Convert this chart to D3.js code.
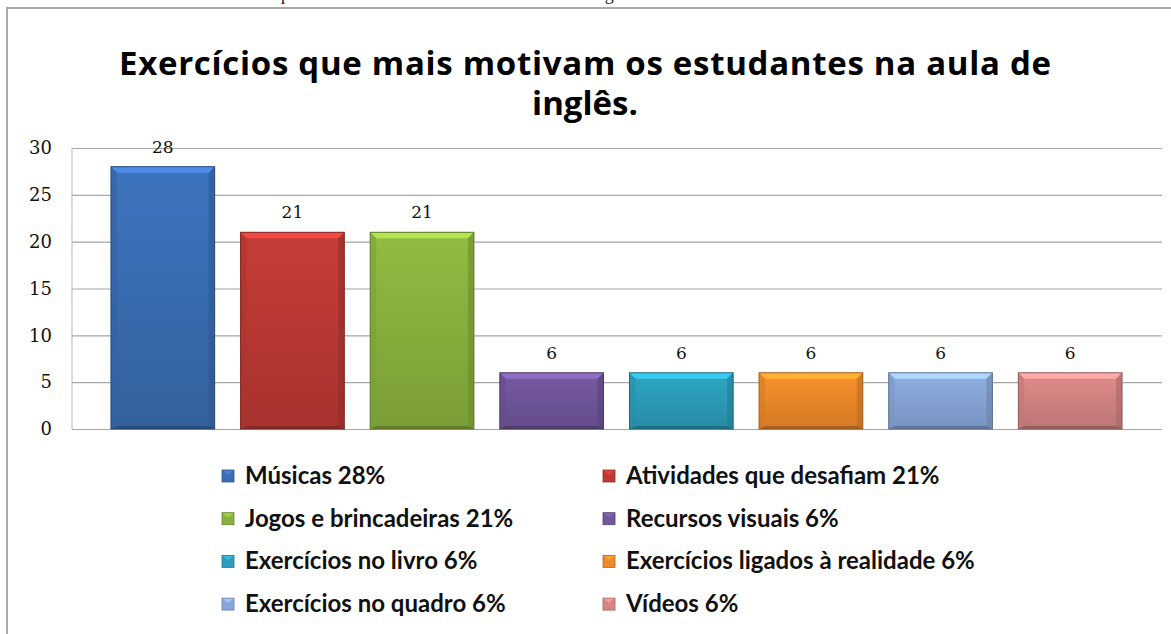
<!DOCTYPE html>
<html>
<head>
<meta charset="utf-8">
<script src="https://cdn.jsdelivr.net/npm/d3@7"></script>
<style>
  body { margin: 0; background: #fff; overflow: hidden; }
  svg { display: block; }
</style>
</head>
<body>
<svg id="chart"></svg>
<script>
// chart data
const categories = ["Músicas", "Atividades que desafiam", "Jogos e brincadeiras", "Recursos visuais",
  "Exercícios no livro", "Exercícios ligados à realidade", "Exercícios no quadro", "Vídeos"];
const values = [28, 21, 21, 6, 6, 6, 6, 6];
const percents = [28, 21, 21, 6, 6, 6, 6, 6];
const colors = ["#3b6eb4", "#bd3a34", "#8ab23e", "#70569a", "#2c9ebb", "#ee8a2a", "#88a7d8", "#d58584"];
const yTicks = [0, 5, 10, 15, 20, 25, 30];
const titleLines = ["Exercícios que mais motivam os estudantes na aula de", "inglês."];
const caption = "Gráfico 3 - Exercícios que mais motivam os estudantes na aula de inglês";

const width = 1171, height = 634;
const svg = d3.select('#chart').attr('width', width).attr('height', height);
const defs = svg.append('defs');

// caption of the document above the chart, mostly cut off at the top
svg.append('text')
  .attr('x', 112).attr('y', 0)
  .attr('font-family', 'Liberation Serif, Times New Roman, serif')
  .attr('font-size', 18)
  .attr('fill', '#222')
  .text(caption);

// chart frame (runs off the right and bottom of the picture)
svg.append('rect')
  .attr('x', 7).attr('y', 8)
  .attr('width', 1300).attr('height', 700)
  .attr('fill', '#fff')
  .attr('stroke', '#ababab')
  .attr('stroke-width', 2);

// title
const title = svg.append('text')
  .attr('text-anchor', 'middle')
  .attr('font-family', 'Open Sans, Lato, sans-serif')
  .attr('font-weight', 'bold')
  .attr('font-size', 33)
  .attr('fill', '#000');
title.selectAll('tspan')
  .data(titleLines)
  .enter()
  .append('tspan')
  .attr('x', 585)
  .attr('y', (d, i) => 75 + i * 40)
  .text(d => d);
// stretch the first line to the width it has in the original
title.select('tspan').attr('textLength', 932).attr('lengthAdjust', 'spacing');

// scales
const plotLeft = 72, plotRight = 1162;
const y = d3.scaleLinear().domain([0, 30]).range([429, 148]);
const x = d3.scaleBand().domain(categories).range([98, 1135]).paddingInner(0.2).paddingOuter(0.1);

// gridlines + y labels
const yAxis = svg.append('g')
  .attr('transform', `translate(${plotLeft},0)`)
  .call(d3.axisLeft(y).tickValues(yTicks).tickSize(-(plotRight - plotLeft)).tickPadding(20));
yAxis.select('.domain').remove();
yAxis.selectAll('.tick line').attr('stroke', '#a6a6a6').attr('stroke-width', 1.2);
yAxis.selectAll('.tick text')
  .attr('font-family', 'DejaVu Serif, serif')
  .attr('font-size', 18)
  .attr('fill', '#111');

svg.append('line')
  .attr('x1', plotLeft).attr('x2', plotLeft)
  .attr('y1', y(30)).attr('y2', y(0))
  .attr('stroke', '#b5b5b5');

// gradients per bar colour
colors.forEach((c, i) => {
  const g = defs.append('linearGradient')
    .attr('id', 'grad' + i)
    .attr('x1', 0).attr('y1', 0).attr('x2', 0).attr('y2', 1);
  g.append('stop').attr('offset', '0%').attr('stop-color', d3.color(c).brighter(0.15));
  g.append('stop').attr('offset', '100%').attr('stop-color', d3.color(c).darker(0.35));
});

// bars with a bevel look
const bevel = 6;
const bars = svg.append('g').selectAll('g')
  .data(categories)
  .enter()
  .append('g');

bars.each(function (d, i) {
  const g = d3.select(this);
  const x0 = x(d), w = x.bandwidth();
  const y0 = y(values[i]), h = y(0) - y(values[i]);
  const c = d3.color(colors[i]);
  g.append('rect')
    .attr('x', x0).attr('y', y0)
    .attr('width', w).attr('height', h)
    .attr('fill', `url(#grad${i})`);
  // top bevel
  g.append('polygon')
    .attr('points', [[x0, y0], [x0 + w, y0], [x0 + w - bevel, y0 + bevel], [x0 + bevel, y0 + bevel]].join(' '))
    .attr('fill', c.brighter(0.7));
  // left side
  g.append('polygon')
    .attr('points', [[x0, y0], [x0 + bevel, y0 + bevel], [x0 + bevel, y0 + h - 3], [x0, y0 + h]].join(' '))
    .attr('fill', c.darker(0.3)).attr('opacity', 0.6);
  // right side
  g.append('polygon')
    .attr('points', [[x0 + w, y0], [x0 + w - bevel, y0 + bevel], [x0 + w - bevel, y0 + h - 3], [x0 + w, y0 + h]].join(' '))
    .attr('fill', c.darker(0.7)).attr('opacity', 0.6);
  // bottom
  g.append('polygon')
    .attr('points', [[x0, y0 + h], [x0 + bevel, y0 + h - 3], [x0 + w - bevel, y0 + h - 3], [x0 + w, y0 + h]].join(' '))
    .attr('fill', c.darker(1));
  g.append('rect')
    .attr('x', x0).attr('y', y0)
    .attr('width', w).attr('height', h)
    .attr('fill', 'none')
    .attr('stroke', c.darker(1.1))
    .attr('stroke-width', 1);
});

// value labels
svg.append('g').selectAll('text')
  .data(categories)
  .enter()
  .append('text')
  .attr('x', d => x(d) + x.bandwidth() / 2)
  .attr('y', (d, i) => y(values[i]) - 14)
  .attr('text-anchor', 'middle')
  .attr('font-family', 'DejaVu Serif, serif')
  .attr('font-size', 17)
  .attr('fill', '#111')
  .text((d, i) => values[i]);

// legend, two columns
const legendCols = [222, 603];
const legend = svg.append('g').selectAll('g')
  .data(categories)
  .enter()
  .append('g')
  .attr('transform', (d, i) => `translate(${legendCols[i % 2]},${476 + Math.floor(i / 2) * 42.7})`);

legend.append('rect')
  .attr('x', 0).attr('y', -6)
  .attr('width', 12).attr('height', 12)
  .attr('fill', (d, i) => colors[i])
  .attr('stroke', (d, i) => d3.color(colors[i]).darker(0.8))
  .attr('stroke-width', 0.8);
legend.append('polygon')
  .attr('points', '0.5,-5.5 11.5,-5.5 6,-1')
  .attr('fill', (d, i) => d3.color(colors[i]).brighter(0.6))
  .attr('opacity', 0.7);

legend.append('text')
  .attr('x', 23).attr('y', 8)
  .attr('font-family', 'Lato, Open Sans, sans-serif')
  .attr('font-weight', 'bold')
  .attr('font-size', 24)
  .attr('fill', '#111')
  .text((d, i) => `${d} ${percents[i]}%`);
</script>
</body>
</html>
